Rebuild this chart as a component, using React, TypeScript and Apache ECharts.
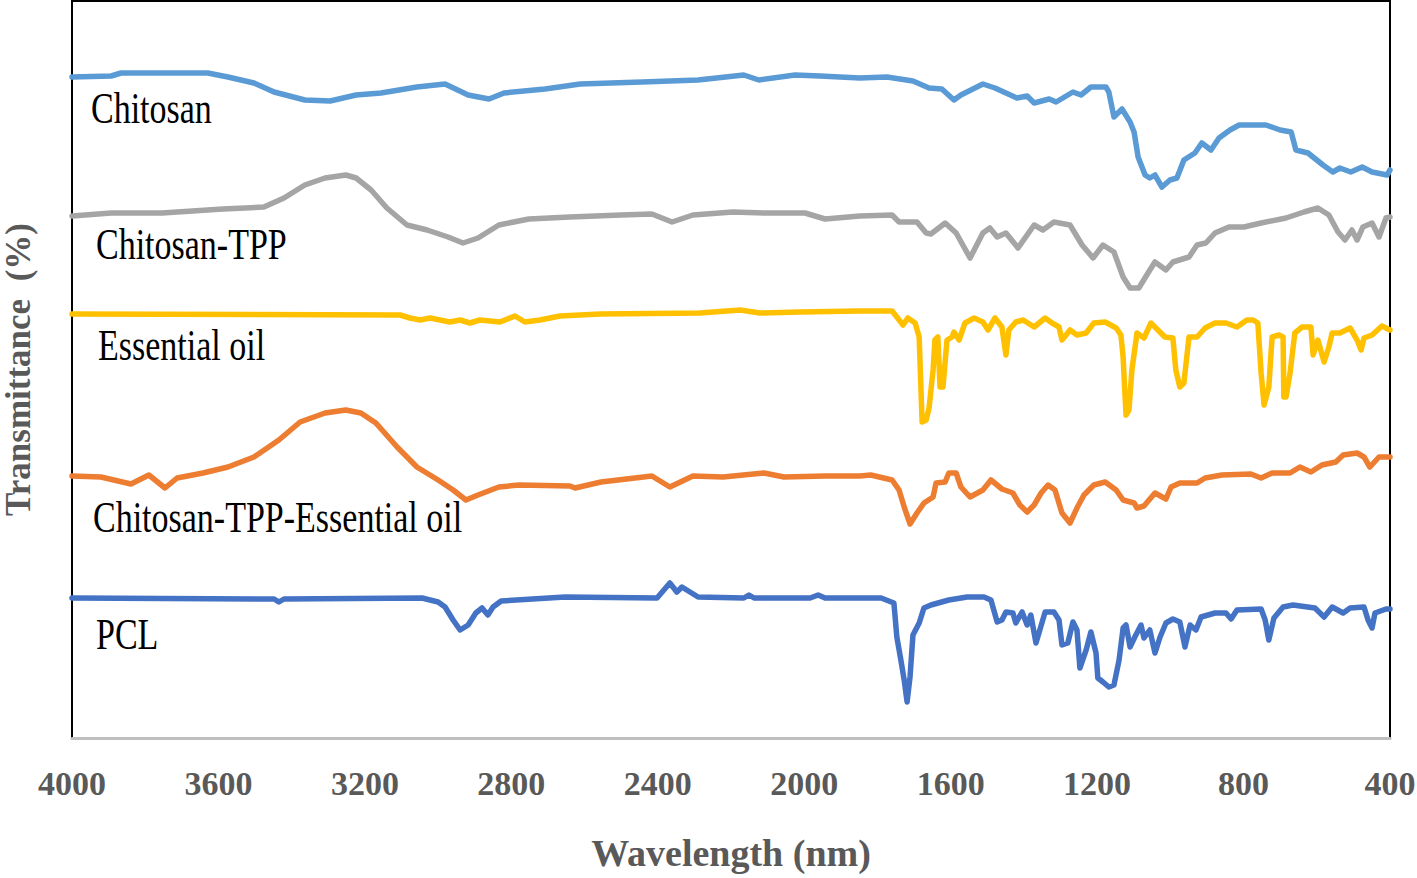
import { useEffect, useRef } from "react";
import * as echarts from "echarts";

// [wavenumber (cm-1), transmittance (offset, arbitrary units)]
const chitosan: number[][] = [
  [4000, 661], [3893, 662], [3866, 665], [3629, 665], [3574, 661], [3503, 655], [3448, 646], [3364, 638],
  [3295, 637], [3224, 643], [3156, 645], [3058, 651], [2981, 654], [2918, 643], [2861, 639], [2820, 645],
  [2708, 649], [2612, 654], [2443, 656], [2290, 658], [2165, 663], [2124, 658], [2025, 663], [1957, 662],
  [1848, 660], [1774, 661], [1703, 657], [1659, 650], [1624, 649], [1591, 638], [1572, 643], [1512, 654],
  [1479, 650], [1449, 645], [1419, 640], [1391, 642], [1372, 635], [1331, 639], [1312, 636], [1266, 646],
  [1244, 643], [1217, 651], [1176, 651], [1168, 646], [1154, 621], [1132, 629], [1110, 616], [1099, 606],
  [1088, 581], [1069, 563], [1056, 560], [1042, 563], [1023, 551], [1001, 558], [982, 560], [963, 578],
  [933, 585], [914, 595], [889, 588], [867, 600], [837, 608], [812, 613], [739, 613], [700, 608],
  [670, 606], [657, 588], [624, 585], [583, 573], [556, 566], [537, 570], [507, 566], [476, 571],
  [449, 566], [408, 563], [400, 568],
];

const chitosanTPP: number[][] = [
  [4000, 522], [3893, 525], [3754, 525], [3588, 529], [3476, 531], [3421, 540], [3364, 553], [3309, 560],
  [3252, 563], [3224, 560], [3183, 548], [3140, 530], [3085, 513], [3030, 508], [2973, 501], [2932, 495],
  [2891, 500], [2834, 513], [2752, 519], [2640, 521], [2500, 523], [2416, 524], [2361, 516], [2304, 523],
  [2195, 526], [2110, 525], [1998, 525], [1943, 519], [1848, 522], [1760, 523], [1741, 516], [1692, 516],
  [1667, 505], [1654, 504], [1615, 515], [1585, 505], [1547, 480], [1512, 505], [1493, 510], [1473, 501],
  [1449, 505], [1416, 490], [1372, 513], [1348, 508], [1318, 516], [1274, 513], [1241, 493], [1211, 480],
  [1184, 493], [1154, 486], [1129, 461], [1110, 450], [1086, 450], [1061, 465], [1042, 476], [1012, 468],
  [993, 476], [949, 481], [927, 493], [903, 495], [878, 505], [840, 511], [799, 511], [752, 515],
  [684, 520], [635, 526], [597, 530], [567, 523], [542, 506], [523, 498], [504, 508], [490, 498],
  [474, 511], [449, 515], [430, 501], [411, 520], [400, 521],
];

const essentialOil: number[][] = [
  [4000, 424], [3104, 423], [3077, 420], [3049, 418], [3022, 420], [2995, 418], [2968, 416], [2940, 418],
  [2913, 415], [2886, 418], [2831, 416], [2790, 422], [2763, 416], [2722, 418], [2667, 422], [2558, 424],
  [2285, 425], [2175, 428], [2121, 425], [2012, 426], [1848, 427], [1760, 427], [1747, 421], [1730, 413],
  [1717, 420], [1697, 415], [1686, 401], [1678, 316], [1667, 318], [1659, 330], [1648, 368], [1643, 398],
  [1635, 401], [1629, 351], [1621, 351], [1610, 398], [1596, 401], [1591, 406], [1577, 398], [1561, 415],
  [1536, 420], [1512, 416], [1498, 408], [1479, 420], [1460, 411], [1449, 383], [1441, 408], [1422, 416],
  [1402, 418], [1372, 411], [1342, 420], [1323, 415], [1304, 411], [1296, 398], [1274, 408], [1255, 403],
  [1230, 405], [1209, 415], [1178, 416], [1148, 410], [1135, 403], [1129, 381], [1121, 323], [1113, 328],
  [1105, 368], [1091, 405], [1072, 400], [1053, 415], [1034, 408], [1015, 401], [993, 400], [985, 368],
  [974, 351], [963, 355], [949, 401], [927, 401], [905, 410], [878, 415], [848, 415], [818, 411],
  [791, 418], [774, 418], [761, 415], [752, 365], [744, 333], [731, 351], [722, 401], [703, 403],
  [692, 401], [690, 341], [684, 341], [673, 365], [660, 405], [640, 411], [616, 411], [610, 383],
  [597, 398], [580, 376], [567, 391], [558, 405], [537, 405], [509, 410], [490, 398], [479, 388],
  [471, 400], [449, 403], [422, 412], [400, 408],
];

const chitosanTPPOil: number[][] = [
  [4000, 262], [3921, 261], [3839, 254], [3790, 263], [3746, 250], [3713, 260], [3642, 265], [3574, 271],
  [3503, 281], [3435, 298], [3377, 316], [3309, 325], [3252, 328], [3211, 325], [3170, 315], [3112, 291],
  [3058, 271], [3000, 258], [2959, 248], [2924, 238], [2891, 243], [2834, 251], [2779, 253], [2640, 252],
  [2626, 250], [2555, 256], [2416, 262], [2367, 251], [2304, 262], [2222, 261], [2110, 265], [2055, 261],
  [1943, 262], [1848, 262], [1818, 263], [1760, 258], [1741, 248], [1727, 231], [1711, 214], [1692, 225],
  [1673, 235], [1648, 241], [1640, 255], [1615, 256], [1605, 265], [1585, 265], [1572, 251], [1547, 241],
  [1512, 248], [1490, 258], [1460, 249], [1430, 245], [1411, 233], [1391, 226], [1372, 233], [1353, 245],
  [1334, 253], [1315, 248], [1296, 225], [1274, 215], [1255, 230], [1236, 243], [1209, 253], [1178, 256],
  [1148, 248], [1129, 238], [1099, 235], [1091, 230], [1072, 232], [1042, 245], [1012, 239], [998, 251],
  [974, 255], [927, 255], [905, 260], [859, 263], [780, 264], [752, 260], [722, 265], [673, 265],
  [646, 271], [616, 266], [586, 273], [548, 276], [528, 283], [490, 285], [471, 281], [455, 271],
  [430, 281], [400, 281],
];

const pcl: number[][] = [
  [4000, 140], [3448, 139], [3435, 136], [3421, 139], [3044, 140], [3000, 136], [2981, 131], [2959, 118],
  [2940, 108], [2918, 113], [2897, 125], [2880, 130], [2864, 123], [2850, 131], [2828, 137], [2653, 141],
  [2402, 140], [2367, 155], [2348, 146], [2334, 151], [2290, 141], [2165, 140], [2151, 143], [2137, 140],
  [1984, 140], [1962, 143], [1943, 140], [1848, 140], [1790, 140], [1755, 135], [1747, 101], [1736, 78],
  [1727, 58], [1719, 36], [1711, 61], [1703, 103], [1686, 115], [1673, 130], [1654, 133], [1605, 138],
  [1555, 141], [1509, 141], [1490, 138], [1473, 116], [1460, 118], [1449, 126], [1430, 125], [1422, 115],
  [1405, 126], [1391, 113], [1381, 123], [1367, 95], [1342, 126], [1318, 126], [1304, 118], [1296, 93],
  [1280, 95], [1266, 116], [1255, 108], [1247, 70], [1230, 88], [1217, 106], [1203, 85], [1198, 60],
  [1184, 56], [1168, 51], [1154, 53], [1140, 78], [1129, 110], [1121, 113], [1110, 91], [1097, 101],
  [1080, 113], [1072, 100], [1056, 108], [1042, 85], [1028, 101], [1012, 115], [993, 119], [974, 116],
  [960, 91], [946, 113], [930, 108], [916, 121], [878, 125], [848, 125], [834, 119], [818, 128],
  [752, 129], [741, 118], [731, 98], [717, 120], [692, 131], [665, 133], [605, 130], [580, 121],
  [558, 131], [528, 125], [509, 130], [471, 131], [460, 118], [449, 110], [441, 125], [411, 129],
  [400, 129],
];

const seriesNames = ["Chitosan", "Chitosan-TPP", "Essential oil", "Chitosan-TPP-Essential oil", "PCL"];
const seriesColors = ["#5B9BD5", "#A5A5A5", "#FFC000", "#ED7D31", "#4472C4"];
const seriesData = [chitosan, chitosanTPP, essentialOil, chitosanTPPOil, pcl];

const xMin = 400;
const xMax = 4000;
const xInterval = 400;
const yMin = 0;
const yMax = 737;

// label anchor positions (pixels)
const labelPos = [
  [91, 108],
  [96, 244],
  [98, 345],
  [93, 517],
  [96, 634],
];

export default function App() {
  const ref = useRef<HTMLDivElement>(null);
  useEffect(() => {
    if (!ref.current) return;
    const chart = echarts.init(ref.current, undefined, { renderer: "svg" });
    const serif = '"Liberation Serif", "Times New Roman", serif';
    chart.setOption({
      animation: false,
      backgroundColor: "#ffffff",
      grid: {
        left: 72,
        right: 27,
        top: 1,
        bottom: 140,
        containLabel: false,
        outerBoundsMode: "none",
        show: true,
        borderColor: "#000000",
        borderWidth: 2,
        backgroundColor: "transparent",
      },
      xAxis: {
        type: "value",
        min: xMin,
        max: xMax,
        interval: xInterval,
        inverse: true,
        name: "Wavelength (nm)",
        nameLocation: "middle",
        nameGap: 96,
        nameTextStyle: { fontFamily: serif, fontWeight: "bold", fontSize: 38, color: "#595959" },
        axisLine: { show: true, lineStyle: { color: "#BFBFBF", width: 3 } },
        axisTick: { show: false },
        splitLine: { show: false },
        axisLabel: {
          fontFamily: serif,
          fontWeight: "bold",
          fontSize: 34,
          color: "#595959",
          margin: 28,
          formatter: (v: number) => String(v),
        },
      },
      yAxis: {
        type: "value",
        min: yMin,
        max: yMax,
        name: "Transmittance  (%)",
        nameLocation: "middle",
        nameGap: 36,
        nameTextStyle: { fontFamily: serif, fontWeight: "bold", fontSize: 35, color: "#595959" },
        axisLine: { show: true, lineStyle: { color: "#000000", width: 2 } },
        axisTick: { show: false },
        axisLabel: { show: false },
        splitLine: { show: false },
      },
      series: seriesData.map((d, i) => ({
        type: "line",
        name: seriesNames[i],
        data: d,
        showSymbol: false,
        symbol: "none",
        lineStyle: { color: seriesColors[i], width: 5.5, join: "round", cap: "round" },
        itemStyle: { color: seriesColors[i] },
        z: 3,
      })),
      graphic: seriesNames.map((n, i) => ({
        type: "text",
        x: labelPos[i][0],
        y: labelPos[i][1],
        scaleY: 1.3,
        z: 10,
        style: {
          text: n,
          fill: "#000000",
          fontFamily: serif,
          fontSize: 34,
          align: "left",
          verticalAlign: "middle",
        },
      })),
    });
    return () => chart.dispose();
  }, []);
  return (
    <div
      ref={ref}
      style={{ position: "absolute", left: 0, top: 0, width: 1417, height: 878 }}
    />
  );
}
